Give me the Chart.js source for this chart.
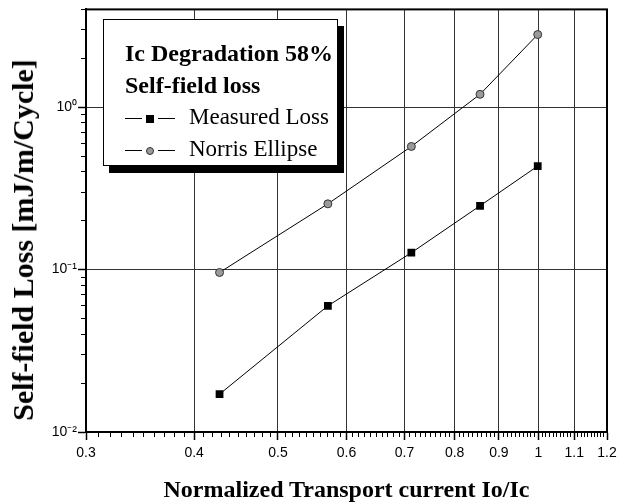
<!DOCTYPE html>
<html>
<head>
<meta charset="utf-8">
<script src="https://cdn.jsdelivr.net/npm/chart.js@4.4.0/dist/chart.umd.min.js"></script>
<style>
  body { margin: 0; background: #fff; }
  #wrap { position: relative; width: 640px; height: 504px; }
  .serif { font-family: "Liberation Serif", "Times New Roman", serif; color: #000; }
  #xTitle { position: absolute; left: 86px; width: 521px; top: 477px; line-height: 24px;
    text-align: center; font-weight: bold; font-size: 24px; white-space: nowrap; }
  #yTitle { position: absolute; left: 23px; top: 240px; line-height: 30px; font-weight: bold;
    font-size: 30px; white-space: nowrap; transform: translate(-50%, -50%) rotate(-90deg); }
  #legend { position: absolute; left: 103px; top: 19px; width: 235px; height: 147px;
    border: 1px solid #000; background: #fff; box-shadow: 6px 7px 0 #000;
    padding: 17px 0 0 21px; box-sizing: border-box; }
  #legend div { font-size: 23px; line-height: 32px; white-space: nowrap; }
  #legend .head { font-weight: bold; font-size: 24px; }
  #legend .seg { display: inline-block; width: 17px; height: 0; border-top: 1px solid #000;
    vertical-align: middle; }
  #legend .mk { display: inline-block; vertical-align: middle; margin: 0 4px; box-sizing: border-box; }
</style>
</head>
<body>
<div id="wrap">
  <canvas id="chart" width="640" height="504"></canvas>
  <div id="xTitle" class="serif"></div>
  <div id="yTitle" class="serif"></div>
  <div id="legend" class="serif"></div>
</div>
<script>
// axis ticks
const xTickValues = [0.3, 0.4, 0.5, 0.6, 0.7, 0.8, 0.9, 1, 1.1, 1.2];
const xTickLabels = ["0.3", "0.4", "0.5", "0.6", "0.7", "0.8", "0.9", "1", "1.1", "1.2"];
const yTickValues = [0.01, 0.1, 1];
const yTickLabels = ["10\u207B\u00B2", "10\u207B\u00B9", "10\u2070"];

// data
const currentRatio = [0.428, 0.571, 0.713, 0.856, 0.998];
const measuredLoss = [0.0171, 0.0598, 0.127, 0.247, 0.434];
const norrisLoss = [0.096, 0.254, 0.573, 1.20, 2.80];
const seriesLabels = ["Measured Loss", "Norris Ellipse"];
const legendHeading = ["Ic Degradation 58%", "Self-field loss"];
const xAxisTitle = "Normalized Transport current Io/Ic";
const yAxisTitle = "Self-field Loss [mJ/m/Cycle]";

// minor tick positions
const xMinor = [];
for (let i = 30; i <= 120; i++) if (i % 10) xMinor.push(i / 100);
const yMinor = [];
yTickValues.forEach(d => {
  for (let k = 2; k <= 9; k++) if (k * d <= 4) yMinor.push(+(k * d).toPrecision(3));
});

const tickFont = { family: "'Liberation Sans', Arial, sans-serif", size: 14 };

// top/right frame of the plot box
const frame = {
  id: "frame",
  afterDraw(chart) {
    const { ctx, chartArea: a } = chart;
    ctx.save();
    ctx.strokeStyle = "#000";
    ctx.lineWidth = 2;
    ctx.strokeRect(a.left, a.top, a.right - a.left, a.bottom - a.top);
    ctx.restore();
  }
};

const chart = new Chart(document.getElementById("chart"), {
  type: "line",
  data: {
    datasets: [
      {
        label: seriesLabels[0],
        data: currentRatio.map((x, i) => ({ x: x, y: measuredLoss[i] })),
        borderColor: "#000",
        borderWidth: 1,
        pointStyle: "rect",
        pointRadius: 5.5,
        pointBackgroundColor: "#000",
        pointBorderWidth: 0
      },
      {
        label: seriesLabels[1],
        data: currentRatio.map((x, i) => ({ x: x, y: norrisLoss[i] })),
        borderColor: "#000",
        borderWidth: 1,
        pointStyle: "circle",
        pointRadius: 4,
        pointBackgroundColor: "#9a9a9a",
        pointBorderColor: "#333",
        pointBorderWidth: 1
      }
    ]
  },
  options: {
    responsive: false,
    animation: false,
    layout: { padding: { top: 7, right: 33, left: 0, bottom: 0 } },
    plugins: { legend: { display: false }, tooltip: { enabled: false } },
    scales: {
      x: {
        type: "logarithmic",
        min: 0.3,
        max: 1.2,
        position: "bottom",
        afterBuildTicks: s => { s.ticks = xTickValues.map(v => ({ value: v })); },
        afterFit: s => { s.height = 72; },
        ticks: {
          autoSkip: false, maxRotation: 0, padding: 5, color: "#000", font: tickFont,
          callback: (v, i) => xTickLabels[i]
        },
        grid: { color: "#333", lineWidth: 1, tickLength: 8, tickColor: "#000", tickWidth: 1.5 },
        border: { color: "#000", width: 2 }
      },
      y: {
        type: "logarithmic",
        min: 0.01,
        max: 4,
        afterBuildTicks: s => { s.ticks = yTickValues.map(v => ({ value: v })); },
        afterFit: s => { s.width = 86; },
        ticks: {
          autoSkip: false, padding: 1, color: "#000", font: tickFont,
          callback: (v, i) => yTickLabels[i]
        },
        grid: { color: "#333", lineWidth: 1, tickLength: 8, tickColor: "#000", tickWidth: 1.5 },
        border: { color: "#000", width: 2 }
      },
      xMinor: {
        type: "logarithmic",
        min: 0.3,
        max: 1.2,
        position: { y: 0.01 },
        afterBuildTicks: s => { s.ticks = xMinor.map(v => ({ value: v })); },
        ticks: { display: false },
        grid: { drawOnChartArea: false, tickLength: 5, tickColor: "#000", tickWidth: 1 },
        border: { display: false }
      },
      yMinor: {
        type: "logarithmic",
        min: 0.01,
        max: 4,
        position: { x: 0.3 },
        afterBuildTicks: s => { s.ticks = yMinor.map(v => ({ value: v })); },
        ticks: { display: false },
        grid: { drawOnChartArea: false, tickLength: 5, tickColor: "#000", tickWidth: 1 },
        border: { display: false }
      }
    }
  },
  plugins: [frame]
});

// titles and legend box
document.getElementById("xTitle").textContent = xAxisTitle;
document.getElementById("yTitle").textContent = yAxisTitle;

const legend = document.getElementById("legend");
legendHeading.forEach(t => {
  const d = document.createElement("div");
  d.className = "head";
  d.textContent = t;
  legend.appendChild(d);
});
chart.data.datasets.forEach(ds => {
  const d = document.createElement("div");
  const mk = document.createElement("span");
  mk.className = "mk";
  if (ds.pointStyle === "rect") {
    mk.style.cssText = "width:8px;height:8px;background:" + ds.pointBackgroundColor;
  } else {
    mk.style.cssText = "width:8px;height:8px;border-radius:50%;background:" +
      ds.pointBackgroundColor + ";border:1px solid " + ds.pointBorderColor;
  }
  const s1 = document.createElement("span");
  s1.className = "seg";
  const s2 = s1.cloneNode();
  const txt = document.createElement("span");
  txt.textContent = ds.label;
  txt.style.marginLeft = "14px";
  d.append(s1, mk, s2, txt);
  legend.appendChild(d);
});
</script>
</body>
</html>
